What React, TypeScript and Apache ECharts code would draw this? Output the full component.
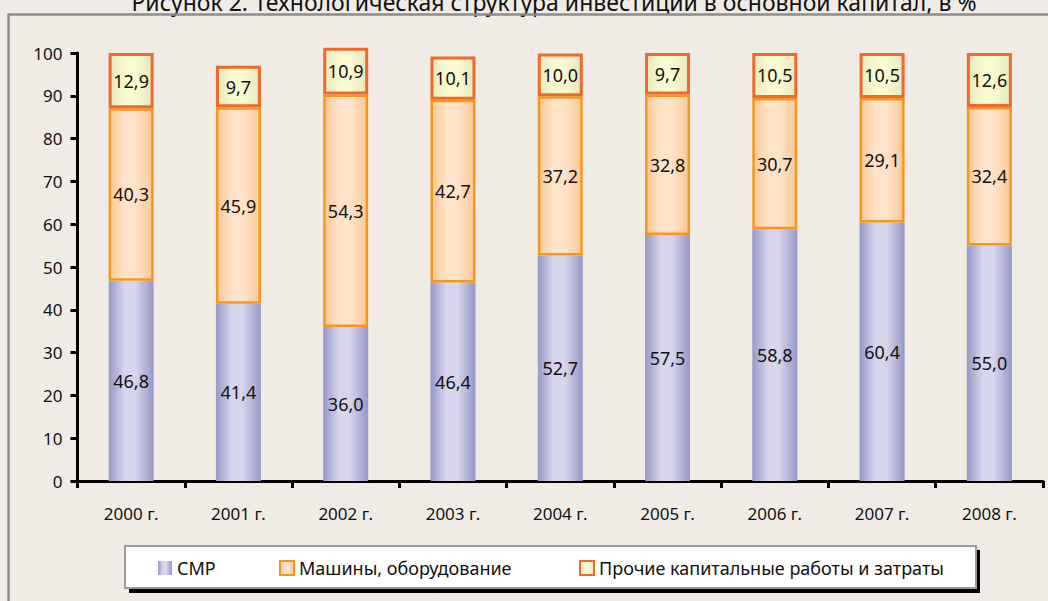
import React, { useEffect, useRef } from "react";
import * as echarts from "echarts";

const categories = ["2000 г.", "2001 г.", "2002 г.", "2003 г.", "2004 г.", "2005 г.", "2006 г.", "2007 г.", "2008 г."];
const smr = [46.8, 41.4, 36.0, 46.4, 52.7, 57.5, 58.8, 60.4, 55.0];
const machines = [40.3, 45.9, 54.3, 42.7, 37.2, 32.8, 30.7, 29.1, 32.4];
const other = [12.9, 9.7, 10.9, 10.1, 10.0, 9.7, 10.5, 10.5, 12.6];
const seriesNames = ["СМР", "Машины, оборудование", "Прочие капитальные работы и затраты"];
const yTicks = [0, 10, 20, 30, 40, 50, 60, 70, 80, 90, 100];
const titleText = "Рисунок 2. Технологическая структура инвестиций в основной капитал, в %";

const FONT = "'Noto Sans', 'Open Sans', sans-serif";
const legendLefts = [158, 279, 579];

function grad(edge: string, mid: string) {
  return new echarts.graphic.LinearGradient(0, 0, 1, 0, [
    { offset: 0, color: edge },
    { offset: 0.35, color: mid },
    { offset: 0.6, color: mid },
    { offset: 1, color: edge },
  ]);
}

const fmt = (p: any) => Number(p.value).toFixed(1).replace(".", ",");

export default function App() {
  const ref = useRef<HTMLDivElement>(null);
  useEffect(() => {
    if (!ref.current) return;
    const chart = echarts.init(ref.current, null, { renderer: "svg" });
    const label = {
      show: true,
      position: "inside" as const,
      formatter: fmt,
      color: "#111",
      fontSize: 18,
      fontFamily: FONT,
    };
    chart.setOption({
      animation: false,
      backgroundColor: "#F0ECE5",
      textStyle: { fontFamily: FONT },
      graphic: [
        {
          type: "text",
          x: 554,
          y: 2,
          z: 1,
          style: {
            text: titleText,
            align: "center",
            verticalAlign: "middle",
            fontSize: 23,
            fontFamily: FONT,
            fill: "#111",
          },
        },
        {
          type: "rect",
          z: 1,
          shape: { x: 8.5, y: 14.5, width: 1200, height: 800 },
          style: { fill: "none", stroke: "#8C8C8C", lineWidth: 2.5 },
        },
        {
          type: "rect",
          z: 1,
          shape: { x: 129, y: 550, width: 851, height: 43 },
          style: { fill: "#000" },
        },
        {
          type: "rect",
          z: 2,
          shape: { x: 125, y: 546, width: 851, height: 42 },
          style: { fill: "#fff", stroke: "#9A9A9A", lineWidth: 2 },
        },
      ],
      legend: seriesNames.map((n, i) => ({
        z: 10,
        left: legendLefts[i],
        top: 559,
        padding: 0,
        itemWidth: 14,
        itemHeight: 14,
        icon: "rect",
        textStyle: { fontSize: 18, color: "#111", fontFamily: FONT, padding: [0, 0, 0, 0] },
        data: [n],
      })),
      grid: { left: 77.5, right: 5, top: 53, bottom: 120 },
      xAxis: {
        type: "category",
        data: categories,
        axisLine: { lineStyle: { color: "#000", width: 3 } },
        axisTick: { show: true, length: 7, lineStyle: { color: "#000", width: 3 } },
        axisLabel: { color: "#111", fontSize: 17, margin: 24, fontFamily: FONT },
      },
      yAxis: {
        type: "value",
        min: 0,
        max: 100,
        interval: 10,
        splitLine: { show: false },
        axisLine: { show: true, lineStyle: { color: "#000", width: 3 } },
        axisTick: { show: true, length: 7, lineStyle: { color: "#000", width: 3 } },
        axisLabel: {
          color: "#111",
          fontSize: 17,
          margin: 15,
          fontFamily: FONT,
          formatter: (v: number) => (yTicks.includes(v) ? String(v) : ""),
        },
      },
      series: [
        {
          name: seriesNames[0],
          type: "bar",
          stack: "a",
          clip: false,
          barWidth: 45,
          data: smr,
          label,
          itemStyle: { color: grad("#9797C8", "#D6D5EB"), borderWidth: 0 },
        },
        {
          name: seriesNames[1],
          type: "bar",
          stack: "a",
          clip: false,
          barWidth: 45,
          data: machines,
          label,
          itemStyle: { color: grad("#FCC896", "#FEE3CA"), borderColor: "#F7961E", borderWidth: 2.5 },
        },
        {
          name: seriesNames[2],
          type: "bar",
          stack: "a",
          clip: false,
          barWidth: 45,
          data: other,
          label,
          itemStyle: { color: grad("#E6E8BC", "#FAFAD2"), borderColor: "#F0682A", borderWidth: 3 },
        },
      ],
    });
    return () => chart.dispose();
  }, []);
  return (
    <div
      ref={ref}
      style={{ position: "fixed", left: 0, top: 0, width: 1048, height: 601 }}
    />
  );
}
